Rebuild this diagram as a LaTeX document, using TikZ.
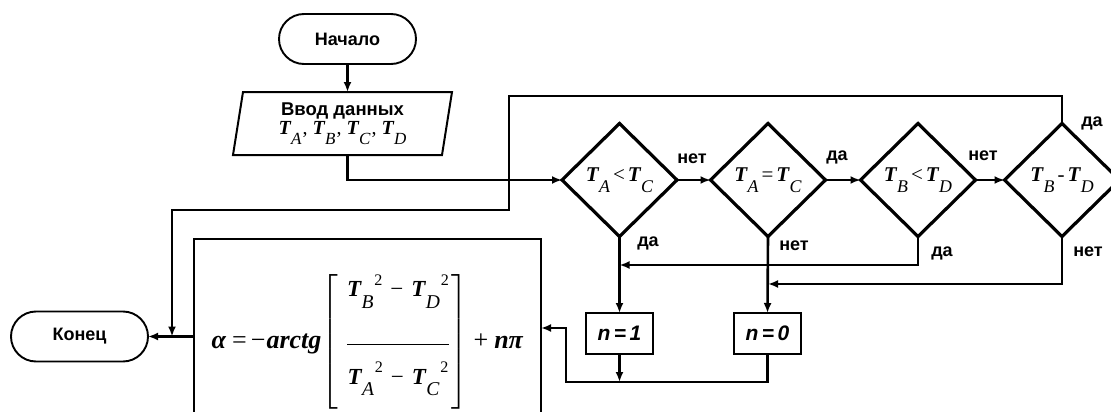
\documentclass[tikz,border=0pt]{standalone}
\usepackage{fix-cm}
\usepackage{amsmath}
\usepackage{graphicx}
\usepackage{fontspec}
\setmainfont{Liberation Serif}
\newfontfamily\lsans{Liberation Sans}
\usetikzlibrary{shapes.geometric,arrows.meta,calc}
\newcommand{\Tv}[1]{{\bfseries\itshape T}\kern0.02em\raisebox{-0.5em}{\normalfont\itshape\scalebox{0.85}{#1}}}
\newcommand{\Tq}[1]{\Tv{#1}\kern0.04em\raisebox{0.5em}{\normalfont\scalebox{0.7}{2}}}
\begin{document}
\begin{tikzpicture}[x=1pt,y=-1pt,
  every node/.style={inner sep=0pt, outer sep=0pt},
  term/.style={draw, line width=1.9pt, rounded corners=25pt, minimum width=137pt, minimum height=50pt, font=\lsans\bfseries\fontsize{18}{21}\selectfont},
  dia/.style={draw, diamond, aspect=1, line width=3.2pt, minimum width=115pt, minimum height=113pt, font=\fontsize{21}{24}\selectfont},
  proc/.style={draw, line width=2.4pt, minimum width=67pt, minimum height=41pt, font=\lsans\bfseries\itshape\fontsize{21}{24}\selectfont},
  arr/.style={line width=2.6pt, -{Latex[length=10pt,width=8pt]}},
  thin arr/.style={line width=2pt, -{Latex[length=10pt,width=8pt]}},
  lbl/.style={font=\lsans\bfseries\fontsize{18}{21}\selectfont}]
\path[use as bounding box, fill=white] (0,0) rectangle (1111,412);

\node[term] (start) at (347.5,39) {Начало};
\node[align=center, minimum width=199pt, minimum height=63pt, font=\lsans\bfseries\fontsize{18.5}{21}\selectfont] (input) at (342.5,123.5)
  {Ввод данных\\[-2pt] {\rmfamily\mdseries\fontsize{20}{21}\selectfont\Tv{A}\kern1pt, \Tv{B}\kern1pt, \Tv{C}\kern1pt, \Tv{D}}};
\draw[line width=2pt] (input.north west) -- ([xshift=10pt]input.north east) -- (input.south east) -- ([xshift=-10pt]input.south west) -- cycle;

\node[dia] (d1) at (619.5,180) {\Tv{A}\kern3pt<\kern3pt\Tv{C}};
\node[dia] (d2) at (768,180) {\Tv{A}\kern3pt=\kern3pt\Tv{C}};
\node[dia] (d3) at (918,180) {\Tv{B}\kern3pt<\kern3pt\Tv{D}};
\node[dia] (d4) at (1062,180) {\Tv{B}\kern3pt-\kern3pt\Tv{D}};

\node[proc] (n1) at (619.5,333.5) {n\,=\,1};
\node[proc] (n0) at (767.5,333.5) {n\,=\,0};

\node[draw, line width=2pt, minimum width=347pt, minimum height=206pt] (formula) at (367.5,342) {\fontsize{26}{30}\selectfont
 \textbf{\textit{α}}\kern6pt=\kern4pt−\kern1pt\textbf{\textit{arctg}}%
 $\left[\kern9pt\begin{array}{@{}c@{}}
   {\fontsize{23}{26}\selectfont\rule[-47pt]{0pt}{62pt}\mbox{\Tq{B}\kern8pt−\kern8pt\Tq{D}}}\\ \hline
   {\fontsize{23}{26}\selectfont\rule[-25pt]{0pt}{65pt}\mbox{\Tq{A}\kern8pt−\kern8pt\Tq{C}}}
 \end{array}\kern2pt\right]$%
 \kern6pt+\kern6pt\textbf{\textit{nπ}}};

\node[term] (stop) at (79.5,336.5) {Конец};

\coordinate (la) at (509,96);
\coordinate (lb) at (172,210);
\coordinate (ja) at (619.5,265);
\coordinate (jb) at (768,284);
\coordinate (jc) at (619.5,382);
\coordinate (jd) at (566,382);
\coordinate (je) at (566,328);

\draw[arr] (start.south) -- (start.south |- input.north);
\draw[arr] (start.south |- input.south) |- (d1.west);
\draw[arr] (d1.east) -- (d2.west);
\draw[arr] (d2.east) -- (d3.west);
\draw[arr] (d3.east) -- (d4.west);
\draw[thin arr] (d4.north) |- (la) |- (lb) -- (lb |- stop.east);
\draw[arr] (d1.south) -- (n1.north);
\draw[arr] (d2.south) -- (n0.north);
\draw[arr] (d3.south) |- (ja);
\draw[arr] (d4.south) |- (jb);
\draw[arr] (n1.south) -- (jc);
\draw[arr] (n0.south) |- (jd) -- (je) -- (je -| formula.east);
\draw[arr] (formula.west |- stop.east) -- (stop.east);

\node[lbl] (t1) at (692,159) {нет};
\node[lbl] (t2) at (837,157) {да};
\node[lbl] (t3) at (983,156) {нет};
\node[lbl] (t4) at (1092,123) {да};
\node[lbl] (t5) at (648,243) {да};
\node[lbl] (t6) at (794,246) {нет};
\node[lbl] (t7) at (942,253) {да};
\node[lbl] (t8) at (1088,252) {нет};
\end{tikzpicture}
\end{document}
